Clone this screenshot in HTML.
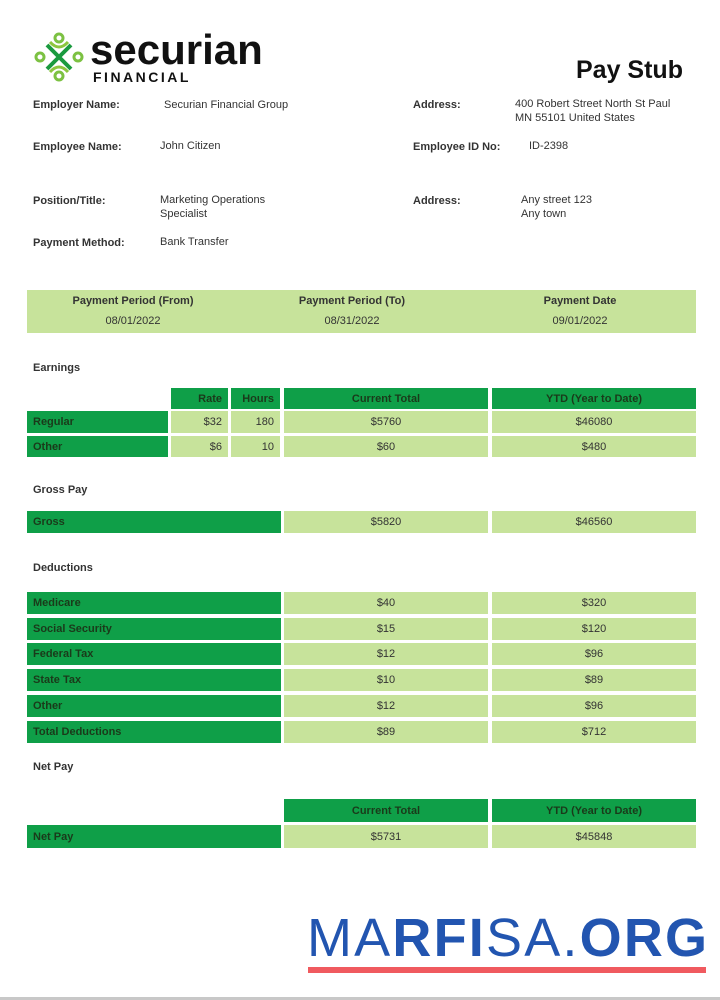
<!DOCTYPE html>
<html><head><meta charset="utf-8"><style>
*{margin:0;padding:0;box-sizing:border-box}
body{width:720px;height:1000px;background:#fff;position:relative;overflow:hidden;font-family:"Liberation Sans",sans-serif;color:#222}
.a{position:absolute;white-space:nowrap}
.l{font-size:11px;font-weight:bold;color:#333}
.v{font-size:11px;color:#333;line-height:14px}
.d{position:absolute;background:#0f9f48;font-size:11px;font-weight:bold;color:#1a3a1a;padding-left:6px;display:flex;align-items:center}
.g{position:absolute;background:#c7e39b;font-size:11px;color:#333;display:flex;align-items:center;justify-content:center}
.r{justify-content:flex-end;padding-right:6px}
.c{justify-content:center;padding-left:0}
.s{font-size:11px;font-weight:bold;color:#333}
</style></head><body>
<svg class="a" style="left:34px;top:32px" width="50" height="50" viewBox="0 0 50 50">
<circle cx="25" cy="6" r="4" fill="none" stroke="#7cc142" stroke-width="3"/>
<circle cx="25" cy="44" r="4" fill="none" stroke="#7cc142" stroke-width="3"/>
<circle cx="6" cy="25" r="4" fill="none" stroke="#7cc142" stroke-width="3"/>
<circle cx="44" cy="25" r="4" fill="none" stroke="#7cc142" stroke-width="3"/>
<path d="M13 13 Q25 25 37 37 M37 13 Q25 25 13 37" stroke="#1a9a3e" stroke-width="4" fill="none"/>
<path d="M16 10 Q25 20 34 10 M16 40 Q25 30 34 40" stroke="#8dc63f" stroke-width="3" fill="none"/>
</svg>
<div class="a" style="left:90px;top:28px;font-size:42px;font-weight:bold;color:#111;letter-spacing:0px;line-height:44px">securian</div>
<div class="a" style="left:93px;top:69px;font-size:14px;font-weight:bold;color:#111;letter-spacing:2.5px">FINANCIAL</div>
<div class="a" style="left:576px;top:56px;font-size:25px;font-weight:bold;color:#111">Pay Stub</div>

<div class="a l" style="left:33px;top:99px">Employer Name:</div>
<div class="a v" style="left:164px;top:98px">Securian Financial Group</div>
<div class="a l" style="left:33px;top:141px">Employee Name:</div>
<div class="a v" style="left:160px;top:139px">John Citizen</div>
<div class="a l" style="left:33px;top:195px">Position/Title:</div>
<div class="a v" style="left:160px;top:193px">Marketing Operations<br>Specialist</div>
<div class="a l" style="left:33px;top:237px">Payment Method:</div>
<div class="a v" style="left:160px;top:235px">Bank Transfer</div>
<div class="a l" style="left:413px;top:99px">Address:</div>
<div class="a v" style="left:515px;top:97px">400 Robert Street North St Paul<br>MN 55101 United States</div>
<div class="a l" style="left:413px;top:141px">Employee ID No:</div>
<div class="a v" style="left:529px;top:139px">ID-2398</div>
<div class="a l" style="left:413px;top:195px">Address:</div>
<div class="a v" style="left:521px;top:193px">Any street 123<br>Any town</div>

<div class="a" style="left:27px;top:290px;width:669px;height:43px;background:#c7e39b"></div>
<div class="a s" style="left:27px;top:295px;width:212px;text-align:center">Payment Period (From)</div>
<div class="a v" style="left:27px;top:314px;width:212px;text-align:center">08/01/2022</div>
<div class="a s" style="left:246px;top:295px;width:212px;text-align:center">Payment Period (To)</div>
<div class="a v" style="left:246px;top:314px;width:212px;text-align:center">08/31/2022</div>
<div class="a s" style="left:474px;top:295px;width:212px;text-align:center">Payment Date</div>
<div class="a v" style="left:474px;top:314px;width:212px;text-align:center">09/01/2022</div>

<div class="a s" style="left:33px;top:362px">Earnings</div>
<div class="d r" style="left:171px;top:388px;width:57px;height:21px">Rate</div>
<div class="d r" style="left:231px;top:388px;width:49px;height:21px">Hours</div>
<div class="d c" style="left:284px;top:388px;width:204px;height:21px">Current Total</div>
<div class="d c" style="left:492px;top:388px;width:204px;height:21px">YTD (Year to Date)</div>
<div class="d" style="left:27px;top:411px;width:141px;height:22px">Regular</div>
<div class="g r" style="left:171px;top:411px;width:57px;height:22px">$32</div>
<div class="g r" style="left:231px;top:411px;width:49px;height:22px">180</div>
<div class="g" style="left:284px;top:411px;width:204px;height:22px">$5760</div>
<div class="g" style="left:492px;top:411px;width:204px;height:22px">$46080</div>
<div class="d" style="left:27px;top:436px;width:141px;height:21px">Other</div>
<div class="g r" style="left:171px;top:436px;width:57px;height:21px">$6</div>
<div class="g r" style="left:231px;top:436px;width:49px;height:21px">10</div>
<div class="g" style="left:284px;top:436px;width:204px;height:21px">$60</div>
<div class="g" style="left:492px;top:436px;width:204px;height:21px">$480</div>

<div class="a s" style="left:33px;top:484px">Gross Pay</div>
<div class="d" style="left:27px;top:511px;width:254px;height:22px">Gross</div>
<div class="g" style="left:284px;top:511px;width:204px;height:22px">$5820</div>
<div class="g" style="left:492px;top:511px;width:204px;height:22px">$46560</div>

<div class="a s" style="left:33px;top:562px">Deductions</div>
<div class="d" style="left:27px;top:592px;width:254px;height:22px">Medicare</div>
<div class="g" style="left:284px;top:592px;width:204px;height:22px">$40</div>
<div class="g" style="left:492px;top:592px;width:204px;height:22px">$320</div>
<div class="d" style="left:27px;top:618px;width:254px;height:22px">Social Security</div>
<div class="g" style="left:284px;top:618px;width:204px;height:22px">$15</div>
<div class="g" style="left:492px;top:618px;width:204px;height:22px">$120</div>
<div class="d" style="left:27px;top:643px;width:254px;height:22px">Federal Tax</div>
<div class="g" style="left:284px;top:643px;width:204px;height:22px">$12</div>
<div class="g" style="left:492px;top:643px;width:204px;height:22px">$96</div>
<div class="d" style="left:27px;top:669px;width:254px;height:22px">State Tax</div>
<div class="g" style="left:284px;top:669px;width:204px;height:22px">$10</div>
<div class="g" style="left:492px;top:669px;width:204px;height:22px">$89</div>
<div class="d" style="left:27px;top:695px;width:254px;height:22px">Other</div>
<div class="g" style="left:284px;top:695px;width:204px;height:22px">$12</div>
<div class="g" style="left:492px;top:695px;width:204px;height:22px">$96</div>
<div class="d" style="left:27px;top:721px;width:254px;height:22px">Total Deductions</div>
<div class="g" style="left:284px;top:721px;width:204px;height:22px">$89</div>
<div class="g" style="left:492px;top:721px;width:204px;height:22px">$712</div>

<div class="a s" style="left:33px;top:761px">Net Pay</div>
<div class="d c" style="left:284px;top:799px;width:204px;height:23px">Current Total</div>
<div class="d c" style="left:492px;top:799px;width:204px;height:23px">YTD (Year to Date)</div>
<div class="d" style="left:27px;top:825px;width:254px;height:23px">Net Pay</div>
<div class="g" style="left:284px;top:825px;width:204px;height:23px">$5731</div>
<div class="g" style="left:492px;top:825px;width:204px;height:23px">$45848</div>

<div class="a" style="left:307px;top:910px;font-size:54px;color:#2255b0;line-height:56px;letter-spacing:2.2px;font-weight:normal">MA<b>RFI</b>SA.<b>ORG</b></div>
<div class="a" style="left:308px;top:967px;width:398px;height:6px;background:#f05a5f"></div>
<div class="a" style="left:0;top:997px;width:720px;height:3px;background:#c8c8c8"></div>
</body></html>
